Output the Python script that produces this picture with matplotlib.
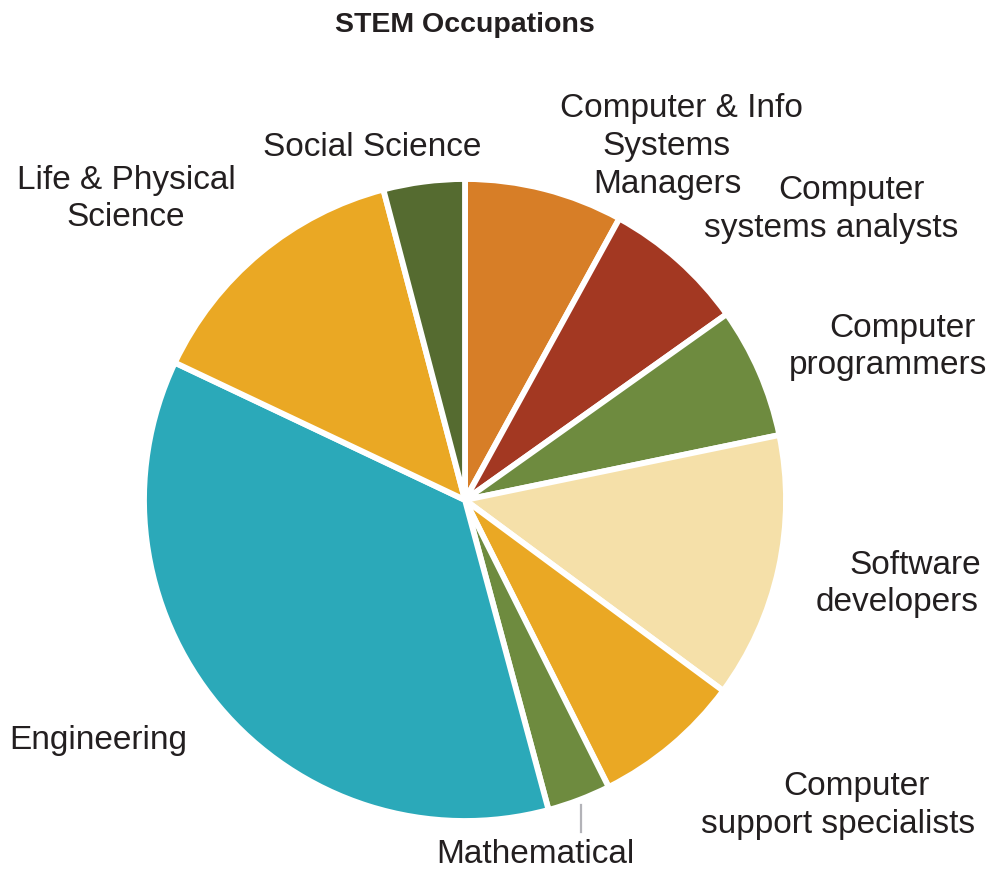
import matplotlib.pyplot as plt

# STEM occupations, share of total (percent)
labels = ["Computer & Info\nSystems\nManagers", "Computer\nsystems analysts",
          "Computer\nprogrammers", "Software\ndevelopers",
          "Computer\nsupport specialists", "Mathematical", "Engineering",
          "Life & Physical\nScience", "Social Science"]
shares = [8.0, 7.2, 6.6, 13.4, 7.5, 3.2, 36.3, 13.9, 4.1]
colors = ["#D77E27", "#A33822", "#6E8B3F", "#F5E0A9", "#EAA824",
          "#6E8B3F", "#2BA9B9", "#EAA824", "#556B30"]

# label placement in pixels (x, y from top) and shift of the first line
label_pos = [(667, 147), (831, 209), (888, 347), (897, 584), (838, 806),
             (535, 855), (98, 741), (126, 199), (372, 147)]
first_shift = [14, 20, 14, 18, 18, 0, 0, 0, 0]
line_h = 38

plt.rcParams['font.family'] = ['Liberation Sans', 'DejaVu Sans']
txt = "#231F20"

fig = plt.figure(figsize=(9.92, 8.7), dpi=100)
ax = fig.add_axes([0, 0, 1, 1])

cx, cy, r = 465, 870 - 501, 321
ax.pie(shares, colors=colors, startangle=90, counterclock=False,
       center=(cx, cy), radius=r, frame=True,
       wedgeprops=dict(edgecolor='white', linewidth=4.2))
ax.set_xlim(0, 992)
ax.set_ylim(0, 870)
ax.set_aspect('equal')
ax.axis('off')

for lab, (x, y), sh in zip(labels, label_pos, first_shift):
    lines = lab.split("\n")
    n = len(lines)
    for i, ln in enumerate(lines):
        lx = x + (sh if i == 0 else 0)
        ly = y + (i - (n - 1) / 2) * line_h
        ax.text(lx, 870 - ly, ln, ha='center', va='center', fontsize=24,
                color=txt)

# leader line for the small Mathematical slice
ax.plot([581, 581], [870 - 806, 870 - 833], color="#B3B3B8", lw=1.6)

ax.text(465, 870 - 25, "STEM Occupations", ha='center', va='center',
        fontsize=20.5, fontweight='bold', color=txt)

fig.savefig("out.png", dpi=100)
